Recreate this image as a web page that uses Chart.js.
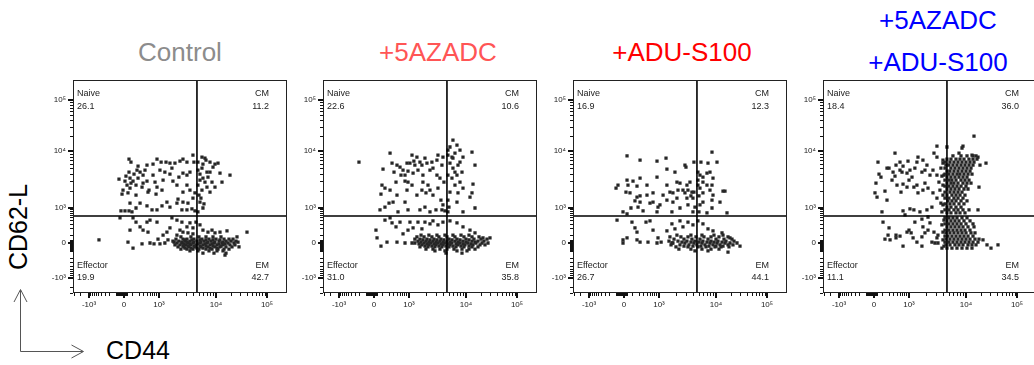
<!DOCTYPE html>
<html>
<head>
<meta charset="utf-8">
<script src="https://cdn.jsdelivr.net/npm/chart.js@4.4.1/dist/chart.umd.min.js"></script>
<style>
html,body{margin:0;padding:0;background:#fff;overflow:hidden;width:1034px;height:365px;}
#wrap{position:relative;width:1034px;height:365px;overflow:hidden;}
#wrap canvas{position:absolute;top:0;}
.t{position:absolute;font-family:"Liberation Sans",Arial,sans-serif;font-size:26px;line-height:30px;text-align:center;white-space:nowrap;}
.ax{position:absolute;font-family:"Liberation Sans",Arial,sans-serif;font-size:25px;line-height:30px;text-align:center;white-space:nowrap;color:#000;}
</style>
</head>
<body>
<div id="wrap">
  <div class="t" style="left:80px;top:37px;width:200px;color:#8c8c8c">Control</div>
  <div class="t" style="left:338px;top:37px;width:200px;color:#ff5555">+5AZADC</div>
  <div class="t" style="left:582px;top:37px;width:200px;color:#ff0000">+ADU-S100</div>
  <div class="t" style="left:838px;top:-1px;width:200px;line-height:42px;color:#0000ff">+5AZADC<br>+ADU-S100</div>
  <div class="ax" style="left:-42px;top:212px;width:120px;transform:rotate(-90deg)">CD62-L</div>
  <div class="ax" style="left:88px;top:335px;width:100px">CD44</div>
  <svg style="position:absolute;left:0;top:280px" width="100" height="85">
    <g fill="none" stroke="#555" stroke-width="1">
      <path d="M20.5 10 L20.5 71.5 L83 71.5"/>
      <path d="M14 22 L20.5 9.5 L27 22"/>
      <path d="M71.5 65 L83.5 71.5 L71.5 78"/>
    </g>
  </svg>
</div>
<script>
// ---------- data (CD44, CD62L) ----------
const controlEvents = [
[81,6410],[57,7240],[186,5450],[168,4640],[57,4280],[22,3640],[-57,3230],[11,2980],[69,3360],[122,3950],
[224,4280],[290,3790],[399,2980],[290,2750],[152,2530],[69,2240],[-11,2070],[-22,1760],[45,1840],[152,1690],
[266,2340],[432,1910],[637,5910],[861,7240],[1090,6410],[1330,6410],[1560,6160],[1910,6160],[2340,6680],[2640,7240],
[3950,8510],[637,3790],[741,2860],[1180,3100],[1270,4280],[1560,3950],[1760,2980],[2070,2530],[2640,4110],[3100,3790],
[3500,4280],[4110,6410],[3100,2530],[3500,2070],[2640,1910],[2160,1440],[2640,1270],[3230,1220],[3950,1500],[4280,1840],
[1130,2070],[861,2340],[800,1760],[1380,1270],[1560,1040],[2070,1220],[224,1220],[69,1220],[152,1000],[94,741],
[-34,800],[11,800],[57,800],[399,1090],[590,861],[861,861],[1130,1090],[2530,861],[3100,861],[3790,928],
[4280,800],[399,5680],[340,4640],[108,2980],[186,3360],[34,2530],[81,2750],[3100,6410],[1690,5030],[2240,3500],
[1040,4640],[468,2070],
[5680,7850],[6410,7540],[4830,6410],[5910,5910],[7850,6410],[8860,5240],[6950,4280],[5240,3950],[5910,3360],[7240,3500],
[9600,5910],[10950,6160],[11980,4110],[13110,2860],[8510,2860],[6950,2340],[4830,2530],[5680,2070],[5030,1690],[5240,1270],
[5910,1000],[4830,741],[18810,3790],[7850,1910],[9600,2340],[4830,4640],[5680,5030],[6410,2860],[5240,3100],[7850,4280],
[6680,6950],[5450,1500],[6160,1180],
[-468,34],[-45,468],[108,468],[152,340],[69,168],[45,11],[108,-57],[224,224],[290,168],[432,136],
[266,-11],[505,0],[687,-11],[928,45],[1040,-11],[1180,94],[1380,136],[1560,204],[861,340],[399,340],
[1270,0],[1440,34],[1840,11],[2070,94],[2340,168],[2530,340],[3100,224],[3500,314],[3950,204],[4460,340],
[2640,136],[3230,122],[3950,108],[5240,266],[5910,168],[7240,136],[8510,168],[9600,122],[11980,136],[16430,152],
[40530,136],[25810,69],[27000,11],[28250,-45],[15010,-152],[2070,399],[1690,468],[505,399],
[2430,69],[3640,69],[5030,69],[6680,69],[8860,69],[12530,69],
[1990,45],[2640,45],[3100,45],[4110,45],[5680,45],[7540,45],[10000,45],[14350,45],[17980,45],[21540,45],
[1760,22],[2240,22],[2860,22],[3500,22],[4640,22],[6160,22],[8180,22],[11450,22],[15710,22],[19680,22],[24670,22],
[2070,0],[2530,0],[3230,0],[3950,0],[5240,0],[6950,0],[9220,0],[13110,0],[17190,0],[22530,0],
[1910,-22],[2340,-22],[2980,-22],[3640,-22],[4460,-22],[5910,-22],[7850,-22],[10460,-22],[13720,-22],[18810,-22],[23580,-22],
[2160,-45],[2750,-45],[3360,-45],[4280,-45],[5450,-45],[7240,-45],[9600,-45],[11980,-45],[15710,-45],[20590,-45],
[2430,-69],[3100,-69],[3950,-69],[5030,-69],[6680,-69],[8510,-69],[10950,-69],[14350,-69],[17980,-69],
[3500,-94],[4830,-94],[7540,-94],[10460,-94],[13720,-94],
[5910,-122],[9220,-122],[15710,-122],
[2860,34],[3790,34],[5240,34],[6680,34],[8860,34],[11980,34],
[2530,11],[3100,11],[4110,11],[5450,11],[7240,11],[9600,11],[13720,11],
[2750,-11],[3500,-11],[4830,-11],[6410,-11],[8510,-11],[11450,-11],[15010,-11],
[2640,-34],[3230,-34],[4110,-34],[5240,-34],[6680,-34],[8860,-34],[12530,-34],
[2860,-57],[3640,-57],[4640,-57],[5910,-57],[7850,-57],[10460,-57]
];

const azadcEvents = [
[-204,6410],[224,9220],[266,6160],[108,4830],[314,4280],[94,2530],[136,2240],[81,1760],[136,1040],[69,861],
[204,1220],[290,1270],[432,741],[741,1270],[928,861],[505,5240],[637,4640],[741,3790],[741,2980],[928,4460],
[1040,6160],[1130,8510],[1220,6680],[1380,7850],[1560,6410],[1440,4640],[1690,5680],[1760,3790],[1760,2860],[1910,7540],
[2070,6160],[2340,4640],[2530,6410],[2640,5030],[2160,2530],[2340,2070],[2640,1690],[1990,1840],[3100,6950],[3230,8510],
[3100,3790],[3500,3360],[3230,2240],[3790,5680],[3950,7850],[4110,2860],[3640,1380],[3950,1130],[1560,861],[1910,1040],
[2340,741],[2980,861],[3790,861],[4280,800],[1380,1690],[1690,2070],[1130,2530],[861,2070],[399,1690],[224,2070],
[369,2860],[399,5680],[545,3790],[928,2860],[1180,4110],[1270,5680],[861,6160],
[5910,16430],[5240,11980],[6950,13110],[4830,10460],[4830,8510],[5680,7850],[6410,9220],[7850,10460],[8860,7850],[13110,9600],
[15010,5680],[5240,6160],[5910,5030],[7240,5680],[8510,4280],[6950,3790],[5680,3360],[7850,2860],[6410,2530],[8860,2240],
[5240,1910],[13720,2640],[13110,1840],[11980,1560],[8860,741],[15010,1000],[5030,1040],[4830,741],[4830,1380],[5910,7540],
[7850,6410],[6410,4280],[4830,3790],[7240,1840],[6950,1270],
[22,168],[34,57],[81,-34],[136,399],[168,11],[266,314],[369,224],[505,340],[637,108],[741,0],
[399,11],[928,168],[1040,340],[1180,204],[1440,340],[1690,186],[1910,340],[2340,290],[2640,369],[3230,266],
[3950,340],[5240,369],[6950,314],[8860,224],[11980,168],[15010,122],[21540,57],[29550,57],[1130,0],[224,468],
[1630,94],[2240,94],[3100,94],[4280,94],[5910,94],[8180,94],[11450,94],
[1380,69],[1840,69],[2530,69],[3360,69],[4640,69],[6410,69],[9220,69],[13110,69],[17980,69],
[1270,45],[1560,45],[2070,45],[2750,45],[3640,45],[5030,45],[6950,45],[10000,45],[14350,45],[19680,45],[25810,45],
[1760,34],[2340,34],[3100,34],[4110,34],[5680,34],[7850,34],[11450,34],
[1440,22],[1990,22],[2640,22],[3500,22],[4640,22],[6410,22],[8860,22],[13110,22],[17190,22],[22530,22],
[1630,11],[2240,11],[2980,11],[3950,11],[5240,11],[7240,11],[10000,11],[15010,11],
[1270,0],[1840,0],[2430,0],[3230,0],[4280,0],[5680,0],[7850,0],[10950,0],[15710,0],[20590,0],[27000,0],
[1500,-11],[2070,-11],[2750,-11],[3640,-11],[4830,-11],[6680,-11],[8860,-11],[12530,-11],
[1690,-22],[2240,-22],[2980,-22],[3950,-22],[5240,-22],[7240,-22],[9600,-22],[13720,-22],[18810,-22],[23580,-22],
[1910,-34],[2530,-34],[3360,-34],[4460,-34],[5910,-34],[8180,-34],[11450,-34],
[1560,-45],[2160,-45],[2860,-45],[3790,-45],[5030,-45],[6680,-45],[9220,-45],[13110,-45],[17190,-45],
[1990,-69],[2640,-69],[3500,-69],[4640,-69],[6160,-69],[8510,-69],[11450,-69],[15010,-69],
[2860,-94],[4280,-94],[6950,-94],[10460,-94],
[4460,-122],[8510,-122]
];

const aduEvents = [
[34,8180],[224,6950],[861,6680],[1330,7540],[1380,4830],[2860,5680],[2980,5240],[4110,6410],[5450,6410],[7240,6160],
[10460,6410],[8510,9600],[-94,2240],[-69,2530],[34,3100],[108,2980],[45,2530],[168,2430],[22,1910],[69,1840],
[224,1630],[168,1560],[136,1330],[224,1270],[186,1040],[81,1000],[-11,741],[34,637],[399,1690],[861,3500],
[1180,1690],[1040,1130],[505,1220],[1380,2530],[1560,1910],[1760,1270],[2070,1500],[1910,4280],[2070,2860],[2340,2750],
[2640,2070],[2860,1840],[3100,2530],[3500,2860],[3790,1910],[3230,1130],[3950,1500],[2340,1000],[3950,741],[637,1270],
[290,800],[861,741],[1690,741],[224,3360],[399,2530],[637,1840],[928,1040],[2160,2070],[1760,1840],[1380,1380],
[3230,2070],[3640,1630],[3100,1500],[4280,1040],[4110,1910],
[4830,4280],[5240,3790],[4830,3100],[5910,3500],[6950,2530],[5240,2240],[7850,4280],[8510,2530],[7850,2070],[5910,1840],
[8860,1690],[11980,1270],[13720,1990],[15010,1990],[8510,1380],[5910,1270],[8510,1000],[16430,687],[5030,741],[6950,687],
[5030,1630],[5910,2860],[6950,4110],[4830,2530],[8860,3360],[5240,1130],
[-81,399],[94,340],[136,204],[168,136],[-11,34],[34,57],[-11,0],[168,34],[224,11],[369,340],
[505,369],[432,11],[928,57],[861,0],[1090,11],[1380,152],[1690,290],[1910,186],[2340,369],[2640,224],
[3230,340],[3950,266],[4830,369],[5910,290],[7240,186],[8860,152],[13110,122],[18810,57],[29550,-34],[17190,-108],
[1690,0],[637,168],
[2070,94],[3640,94],[5680,94],[9220,94],[13720,94],
[1560,69],[2430,69],[3230,69],[4460,69],[6160,69],[8180,69],[11450,69],[17190,69],
[1840,45],[2750,45],[3790,45],[5240,45],[7240,45],[10000,45],[14350,45],[20590,45],
[1500,22],[2160,22],[3100,22],[4280,22],[5910,22],[8180,22],[10950,22],[15710,22],[22530,22],
[2530,11],[3640,11],[5030,11],[6950,11],[9220,11],[13110,11],
[1760,0],[2860,0],[4110,0],[5680,0],[7850,0],[10460,0],[15010,0],[18810,0],[25810,0],
[1630,-22],[2340,-22],[3360,-22],[4640,-22],[6410,-22],[8860,-22],[11980,-22],[17190,-22],[21540,-22],
[2750,-34],[3950,-34],[5450,-34],[7540,-34],[10000,-34],[13720,-34],
[1990,-45],[3230,-45],[4830,-45],[6680,-45],[9600,-45],[12530,-45],[17980,-45],
[2240,-69],[3640,-69],[5680,-69],[8180,-69],[11450,-69],
[4280,-94],[7240,-94]
];

const comboEvents = [
[45,6410],[57,3950],[81,3500],[22,2750],[11,1840],[34,1560],[94,741],[136,1990],[168,1380],[168,5030],
[204,5030],[340,9220],[290,4280],[266,3100],[399,2530],[369,5680],[505,4640],[590,4280],[637,5450],[861,4110],
[928,6680],[1040,4640],[637,2640],[861,2340],[545,1910],[637,800],[741,590],[1440,7850],[1380,6410],[1270,5030],
[1690,4280],[1910,4640],[1760,6950],[1220,2340],[1380,2530],[1910,2750],[1760,2070],[1440,1840],[2160,2240],[2640,4640],
[2750,9220],[3100,12530],[3100,7850],[3640,5030],[3100,3790],[3790,3640],[3360,2860],[3500,2070],[2640,1840],[3100,1500],
[3640,1220],[2530,1040],[2070,861],[1560,741],[1220,861],[1040,928],[3790,741],[3950,1690],[3950,6950],[505,6410],
[1130,3500],[340,3640],[1000,3100],[2340,3790],[2070,5680],
[3950,6160],[3950,2530],[4110,399],[3950,34],[4110,-34],[4110,3790],[3950,1130],
[8860,12530],[14350,19680],[8510,11450],[17190,7850],[24670,6160],[17980,2340],[17190,861],[4640,11980],[7540,9220],[13110,8510],
[25810,-22],[30920,-57],[42400,-22],[21540,34],
[108,340],[204,204],[186,94],[136,45],[224,34],[369,94],[369,57],[637,-34],[1000,168],[1090,122],
[1180,57],[1270,340],[1380,11],[1690,-34],[1760,224],[1910,122],[1690,69],[2340,314],[2530,11],[2750,136],
[3100,57],[3230,0],[3790,266],[3950,136],[3790,-57],[2160,505],[1690,432],[505,81],[861,136],[2160,168],
[2860,0],[3230,94],
[5910,8180],[8180,8180],[10460,8180],[13720,8180],[15710,8180],
[4640,7240],[5450,7240],[6680,7240],[7850,7240],[9220,7240],[11450,7240],[13720,7240],[16430,7240],
[4280,6410],[5240,6410],[6160,6410],[7240,6410],[8510,6410],[10000,6410],[11980,6410],[14350,6410],
[4460,5680],[5030,5680],[5910,5680],[6950,5680],[8180,5680],[9600,5680],[11450,5680],[13720,5680],[18810,5680],
[4280,5030],[5450,5030],[6410,5030],[7540,5030],[8860,5030],[10460,5030],[12530,5030],
[4640,4460],[5240,4460],[6160,4460],[7240,4460],[8510,4460],[10000,4460],[11980,4460],
[4280,3950],[5030,3950],[5910,3950],[6950,3950],[7850,3950],[9220,3950],[10950,3950],[13110,3950],
[4640,3500],[5450,3500],[6410,3500],[7540,3500],[8860,3500],[10460,3500],
[4280,3100],[5030,3100],[5680,3100],[6680,3100],[8180,3100],[9600,3100],[11450,3100],
[4640,2750],[5450,2750],[6160,2750],[7240,2750],[8860,2750],[10460,2750],[12530,2750],
[4280,2430],[5030,2430],[5910,2430],[6950,2430],[8180,2430],[10000,2430],
[4640,2160],[5450,2160],[6410,2160],[7540,2160],[9220,2160],[10950,2160],
[4280,1910],[5240,1910],[6160,1910],[7240,1910],[8510,1910],
[4640,1690],[5680,1690],[6680,1690],[7850,1690],[9600,1690],
[4280,1500],[5030,1500],[6160,1500],[7240,1500],[8860,1500],
[4830,1330],[5680,1330],[6680,1330],[8180,1330],[10460,1330],
[4280,1180],[5240,1180],[6160,1180],[7540,1180],[9220,1180],
[4640,1040],[5450,1040],[6680,1040],[8180,1040],
[4280,861],[5030,861],[6160,861],[7240,861],[8860,861],[11450,861],
[4640,687],[5450,687],[6680,687],[7850,687],[9600,687],
[4280,468],[5030,468],[5910,468],[6950,468],[8510,468],[10460,468],
[4640,369],[5450,369],[6410,369],[7540,369],[9220,369],[11980,369],
[4280,290],[5030,290],[5910,290],[6950,290],[8180,290],[10000,290],[13720,290],
[4640,224],[5450,224],[6410,224],[7540,224],[8860,224],[10950,224],[14350,224],
[4280,168],[5030,168],[5910,168],[6950,168],[8180,168],[9600,168],[11980,168],
[4460,122],[5240,122],[6160,122],[7240,122],[8510,122],[10000,122],[12530,122],[15010,122],
[4280,81],[4830,81],[5680,81],[6680,81],[7850,81],[9220,81],[10950,81],[13720,81],
[4460,45],[5240,45],[6160,45],[7240,45],[8510,45],[10000,45],[11980,45],[15010,45],[17980,45],
[4280,11],[5030,11],[5910,11],[6950,11],[8180,11],[9600,11],[11450,11],[13720,11],[17190,11],
[4460,-22],[5240,-22],[6410,-22],[7540,-22],[8860,-22],[10950,-22],[13110,-22],[15710,-22],
[4640,-57],[5680,-57],[6950,-57],[8510,-57],[10460,-57],[13110,-57]
];

// quadrant percentages: Naive, CM, Effector, EM
const naivePct    = [26.1, 22.6, 16.9, 18.4];
const cmPct       = [11.2, 10.6, 12.3, 36.0];
const effectorPct = [19.9, 31.0, 26.7, 11.1];
const emPct       = [42.7, 35.8, 44.1, 34.5];
const quadrantNames = ['Naive', 'CM', 'Effector', 'EM'];

// gates
const gateCD44 = 4640;
const gateCD62L = 545;

// axis ticks
const majorTicks = [-1000, 0, 1000, 10000, 100000];
const majorTickLabels = ['-10\u00b3', '0', '10\u00b3', '10\u2074', '10\u2075'];
const minorTicks = [-3000,-2000,-900,-800,-700,-600,-500,-400,-300,-200,-100,
  -90,-80,-70,-60,-50,-40,-30,-20,-10,10,20,30,
  100,200,300,400,500,600,700,800,900,
  2000,3000,4000,5000,6000,7000,8000,9000,
  20000,30000,40000,50000,60000,70000,80000,90000];

// biexponential display: [value, position along axis in px]
const xKnots = [[-3294,0],[-1000,16],[0,51],[1000,86],[10000,143],[100000,194],[246900,214]];
const yKnots = [[-3059,0],[-1000,15],[0,50],[1000,85],[10000,142],[100000,193],[246900,213]];

// ---------- custom biex scale ----------
const COF = 150;
const U = v => Math.asinh(v / COF);
class BiexScale extends Chart.Scale {
  determineDataLimits() {
    const k = this.options.knots;
    this.min = k[0][0];
    this.max = k[k.length - 1][0];
  }
  buildTicks() {
    return this.options.tickValues.map(v => ({ value: v }));
  }
  getLabelForValue(v) { return String(v); }
  configure() {
    super.configure();
    const k = this.options.knots;
    this._ku = k.map(p => U(p[0]));
    this._kp = k.map(p => p[1]);
    this._span = this._kp[this._kp.length - 1];
  }
  _pos(v) {
    const u = U(v), ku = this._ku, kp = this._kp;
    let i = 0;
    while (i < ku.length - 2 && u > ku[i + 1]) i++;
    return kp[i] + (u - ku[i]) / (ku[i + 1] - ku[i]) * (kp[i + 1] - kp[i]);
  }
  getPixelForValue(v) { return this.getPixelForDecimal(this._pos(v) / this._span); }
  getValueForPixel(px) {
    const p = this.getDecimalForPixel(px) * this._span, ku = this._ku, kp = this._kp;
    let i = 0;
    while (i < kp.length - 2 && p > kp[i + 1]) i++;
    return COF * Math.sinh(ku[i] + (p - kp[i]) / (kp[i + 1] - kp[i]) * (ku[i + 1] - ku[i]));
  }
}
BiexScale.id = 'biex';
BiexScale.defaults = {};
Chart.register(BiexScale);

const allTicks = [...majorTicks, ...minorTicks].sort((a, b) => a - b);
const tickLabel = v => { const i = majorTicks.indexOf(v); return i >= 0 ? majorTickLabels[i] : ''; };

const flowPlugin = {
  id: 'flow',
  afterDatasetsDraw(chart) {
    const { ctx, chartArea: a, scales: { x, y } } = chart;
    const gx = x.getPixelForValue(gateCD44), gy = y.getPixelForValue(gateCD62L);
    ctx.save();
    ctx.strokeStyle = '#000';
    ctx.lineWidth = 1.6;
    ctx.beginPath();
    ctx.moveTo(gx, a.top); ctx.lineTo(gx, a.bottom);
    ctx.moveTo(a.left, gy); ctx.lineTo(a.right, gy);
    ctx.stroke();
    ctx.restore();
  },
  afterDraw(chart, args, opts) {
    const { ctx, chartArea: a, scales: { x, y } } = chart;
    ctx.save();
    ctx.strokeStyle = '#222';
    ctx.lineWidth = 1;
    ctx.strokeRect(a.left + 0.5, a.top + 0.5, a.right - a.left - 1, a.bottom - a.top - 1);
    ctx.fillStyle = '#111';
    x.ticks.forEach(t => {
      const major = majorTicks.includes(t.value);
      const p = Math.round(x.getPixelForValue(t.value));
      if (major) ctx.fillRect(p - 1, a.bottom, 2, 5); else ctx.fillRect(p, a.bottom, 1, 3);
    });
    y.ticks.forEach(t => {
      const major = majorTicks.includes(t.value);
      const p = Math.round(y.getPixelForValue(t.value));
      if (major) ctx.fillRect(a.left - 5, p - 1, 5, 2); else ctx.fillRect(a.left - 3, p, 3, 1);
    });
    ctx.fillStyle = '#222';
    ctx.font = '9px "Liberation Sans", Arial, sans-serif';
    ctx.textBaseline = 'middle';
    ctx.textAlign = 'left';
    ctx.fillText(quadrantNames[0], a.left + 4, a.top + 14);
    ctx.fillText(opts.naive.toFixed(1), a.left + 4, a.top + 27);
    ctx.fillText(quadrantNames[2], a.left + 4, a.bottom - 27);
    ctx.fillText(opts.eff.toFixed(1), a.left + 4, a.bottom - 15.5);
    ctx.textAlign = 'right';
    ctx.fillText(quadrantNames[1], a.right - 18, a.top + 14);
    ctx.fillText(opts.cm.toFixed(1), a.right - 18, a.top + 27);
    ctx.fillText(quadrantNames[3], a.right - 18, a.bottom - 27);
    ctx.fillText(opts.em.toFixed(1), a.right - 18, a.bottom - 15.5);
    ctx.restore();
  }
};

const panels = [controlEvents, azadcEvents, aduEvents, comboEvents];
const wrap = document.getElementById('wrap');
const tickFont = { family: '"Liberation Sans", Arial, sans-serif', size: 8 };

panels.forEach((events, i) => {
  const c = document.createElement('canvas');
  c.width = 260; c.height = 365;
  c.style.left = (30 + 250 * i) + 'px';
  wrap.appendChild(c);
  new Chart(c, {
    type: 'scatter',
    data: {
      datasets: [{
        data: events.map(([cd44, cd62l]) => ({ x: cd44, y: cd62l })),
        pointStyle: 'rect',
        pointRadius: 2.3,
        pointHoverRadius: 2.3,
        backgroundColor: '#262626',
        borderWidth: 0
      }]
    },
    options: {
      responsive: false,
      animation: false,
      devicePixelRatio: 1,
      events: [],
      layout: { padding: { top: 80, right: 3, left: 0, bottom: 0 } },
      plugins: {
        legend: { display: false },
        tooltip: { enabled: false },
        flow: { naive: naivePct[i], cm: cmPct[i], eff: effectorPct[i], em: emPct[i] }
      },
      scales: {
        x: {
          type: 'biex', position: 'bottom', knots: xKnots, tickValues: allTicks,
          afterFit: s => { s.height = 72; },
          grid: { display: false, drawTicks: true, tickLength: 5 },
          border: { display: false },
          ticks: { autoSkip: false, maxRotation: 0, minRotation: 0, padding: 2, color: '#222', font: tickFont, callback: tickLabel }
        },
        y: {
          type: 'biex', position: 'left', knots: yKnots, tickValues: allTicks,
          afterFit: s => { s.width = 43; },
          grid: { display: false, drawTicks: true, tickLength: 5 },
          border: { display: false },
          ticks: { autoSkip: false, padding: 2, color: '#222', font: tickFont, callback: tickLabel }
        }
      }
    },
    plugins: [flowPlugin]
  });
});
</script>
</body>
</html>
